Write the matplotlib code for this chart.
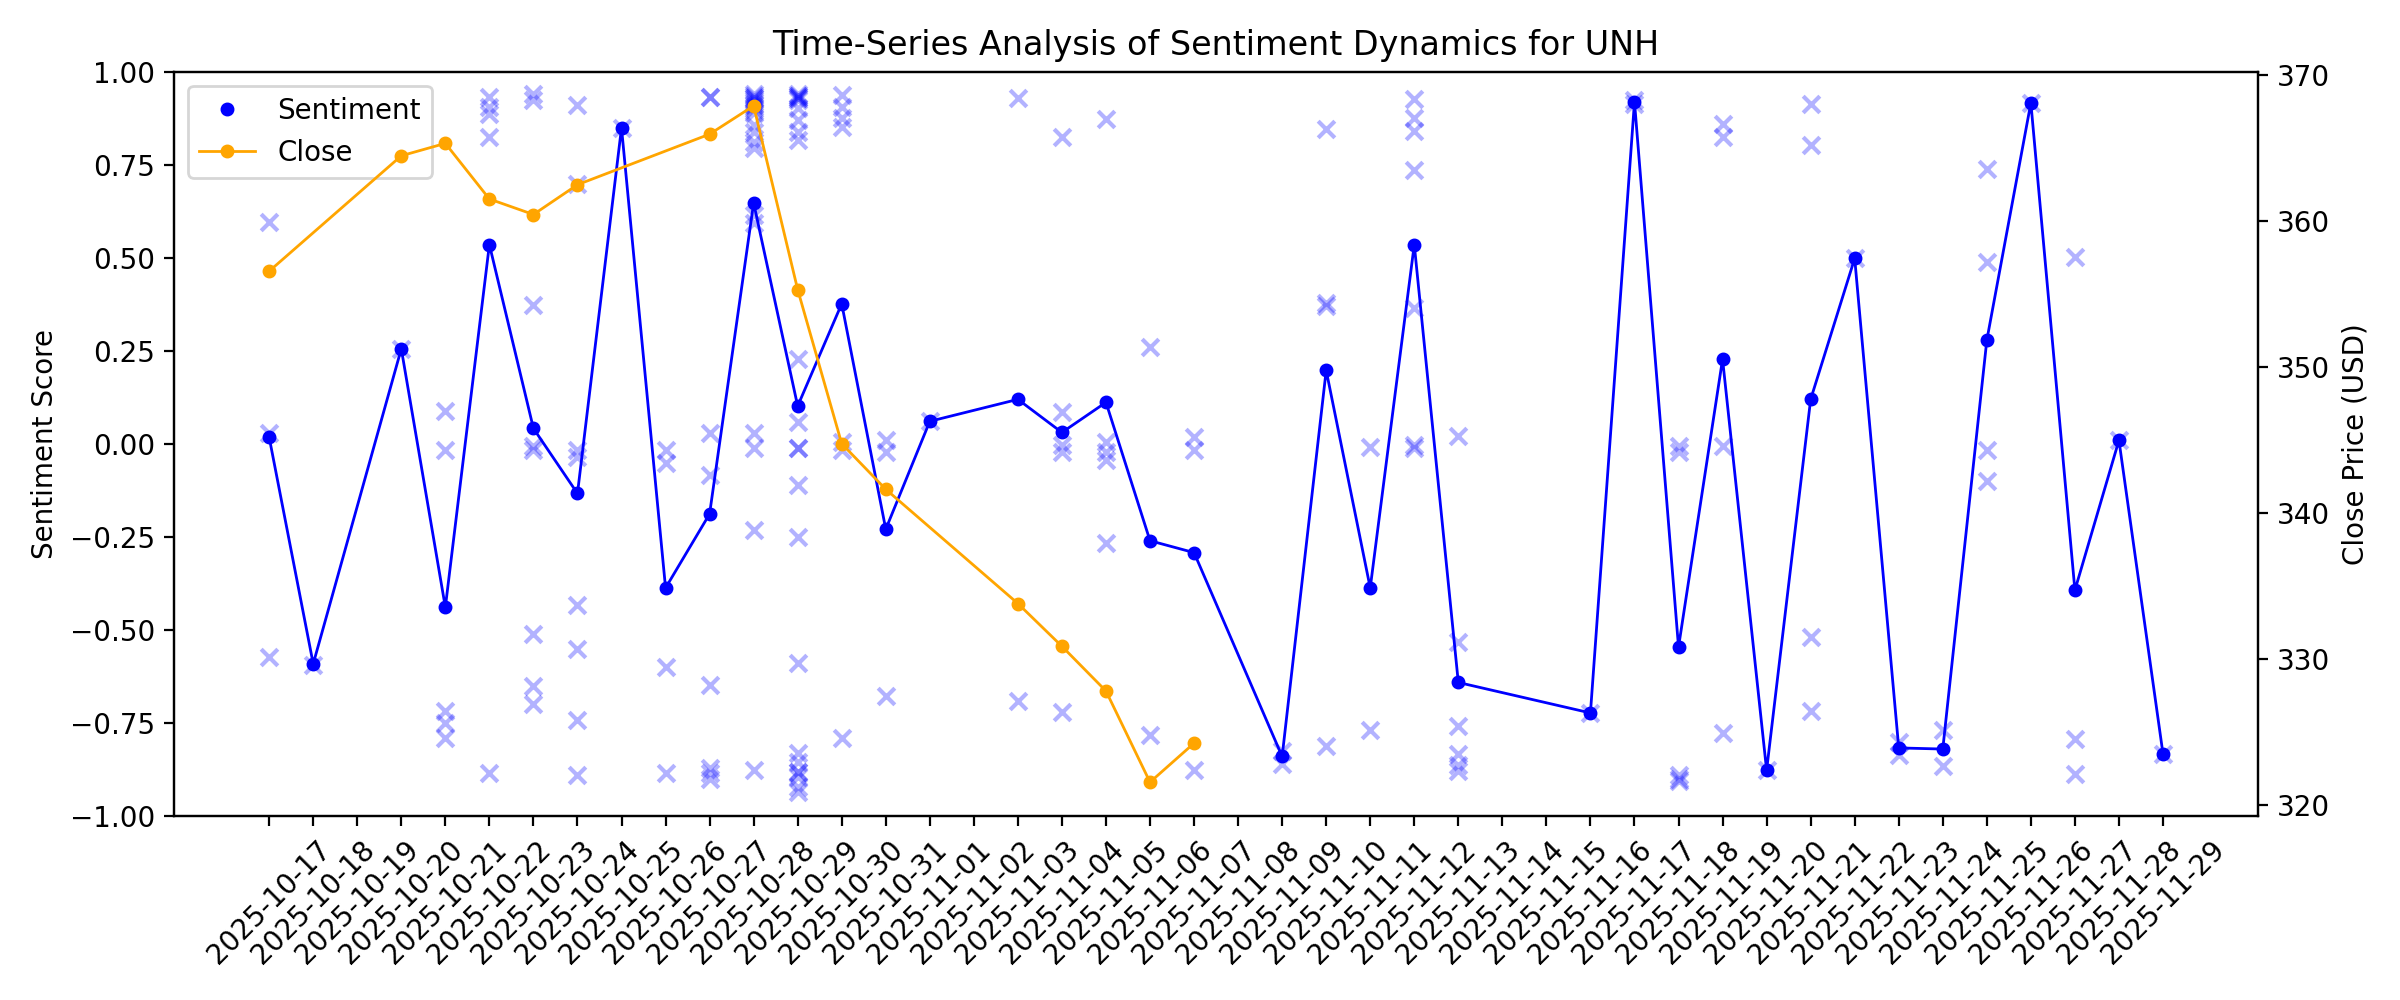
import matplotlib
matplotlib.use("Agg")
import matplotlib.pyplot as plt
import matplotlib.dates as mdates
import pandas as pd

# ---- data ----
sent_dates = ["2025-10-17", "2025-10-18", "2025-10-20", "2025-10-21", "2025-10-22",
              "2025-10-23", "2025-10-24", "2025-10-25", "2025-10-26", "2025-10-27",
              "2025-10-28", "2025-10-29", "2025-10-30", "2025-10-31", "2025-11-01",
              "2025-11-03", "2025-11-04", "2025-11-05", "2025-11-06", "2025-11-07",
              "2025-11-09", "2025-11-10", "2025-11-11", "2025-11-12", "2025-11-13",
              "2025-11-16", "2025-11-17", "2025-11-18", "2025-11-19", "2025-11-20",
              "2025-11-21", "2025-11-22", "2025-11-23", "2025-11-24", "2025-11-25",
              "2025-11-26", "2025-11-27", "2025-11-28", "2025-11-29"]

sent_mean = [0.018, -0.591, 0.256, -0.439, 0.536,
             0.042, -0.133, 0.850, -0.387, -0.188,
             0.648, 0.102, 0.377, -0.229, 0.061,
             0.120, 0.031, 0.112, -0.260, -0.292,
             -0.840, 0.198, -0.387, 0.536, -0.641,
             -0.723, 0.920, -0.546, 0.228, -0.877,
             0.120, 0.499, -0.817, -0.820, 0.279,
             0.917, -0.393, 0.010, -0.833]

# individual article scores per day (same order as sent_dates)
article_scores = [
    [0.597, 0.029, -0.573],
    [-0.595],
    [0.256],
    [0.089, -0.015, -0.717, -0.750, -0.790],
    [0.933, 0.906, 0.886, 0.826, -0.884],
    [0.940, 0.925, 0.375, -0.005, -0.015, -0.510, -0.650, -0.700],
    [0.910, 0.699, -0.015, -0.035, -0.432, -0.550, -0.743, -0.890],
    [0.850],
    [-0.015, -0.051, -0.599, -0.884],
    [0.932, 0.932, 0.029, -0.083, -0.648, -0.870, -0.885, -0.900],
    [0.940, 0.935, 0.930, 0.930, 0.925, 0.920, 0.915, 0.910, 0.905, 0.900, 0.890,
     0.858, 0.840, 0.813, 0.795, 0.616, 0.593, 0.029, -0.012, -0.231, -0.876],
    [0.940, 0.935, 0.935, 0.930, 0.930, 0.925, 0.902, 0.871, 0.840, 0.817,
     0.228, 0.060, -0.012, -0.012, -0.110, -0.249,
     -0.590, -0.831, -0.854, -0.881, -0.881, -0.894, -0.921, -0.935],
    [0.938, 0.907, 0.876, 0.853, 0.005, -0.016, -0.791],
    [0.011, -0.022, -0.677],
    [0.061],
    [0.929, -0.690],
    [0.826, 0.085, -0.002, -0.022, -0.721],
    [0.873, 0.005, -0.022, -0.042, -0.267],
    [0.261, -0.781],
    [0.018, -0.015, -0.877],
    [-0.825, -0.860],
    [0.846, 0.379, 0.372, -0.813],
    [-0.009, -0.768],
    [0.927, 0.876, 0.842, 0.737, 0.365, -0.002, -0.011],
    [0.021, -0.532, -0.757, -0.834, -0.864, -0.880],
    [-0.723],
    [0.925, 0.915],
    [-0.006, -0.022, -0.890, -0.900, -0.905],
    [0.860, 0.826, -0.006, -0.777],
    [-0.877],
    [0.913, 0.804, -0.519, -0.719],
    [0.500],
    [-0.800, -0.835],
    [-0.770, -0.866],
    [0.739, 0.488, -0.015, -0.100],
    [0.917],
    [0.502, -0.794, -0.886],
    [0.010],
    [-0.833],
]

close_dates = ["2025-10-17", "2025-10-20", "2025-10-21", "2025-10-22", "2025-10-23",
               "2025-10-24", "2025-10-27", "2025-10-28", "2025-10-29", "2025-10-30",
               "2025-10-31", "2025-11-03", "2025-11-04", "2025-11-05", "2025-11-06",
               "2025-11-07"]
close_prices = [356.56, 364.46, 365.31, 361.50, 360.44,
                362.48, 365.94, 367.88, 355.30, 344.75,
                341.63, 333.81, 330.88, 327.82, 321.58,
                324.25]

tick_start = "2025-10-17"
tick_end = "2025-11-29"

# ---- plotting ----
sd = pd.to_datetime(sent_dates)
art_x = []
art_y = []
for d, scores in zip(sd, article_scores):
    for s in scores:
        art_x.append(d)
        art_y.append(s)
cd = pd.to_datetime(close_dates)

fig = plt.figure(figsize=(12, 5), dpi=200)
ax = fig.add_axes([0.0727, 0.184, 0.868, 0.744])

ax.scatter(art_x, art_y, marker="x", color="blue", alpha=0.3, s=36)
ax.plot(sd, sent_mean, color="blue", linewidth=1)
ax.plot(sd, sent_mean, linestyle="none", marker="o", markersize=4,
        color="blue", label="Sentiment")
ax.set_ylim(-1, 1)
ax.set_ylabel("Sentiment Score")

ax2 = ax.twinx()
ax2.plot(cd, close_prices, color="orange", marker="o", markersize=4,
         linewidth=1, label="Close")
ax2.set_ylabel("Close Price (USD)")

ticks = pd.date_range(tick_start, tick_end, freq="D")
ax.set_xticks(ticks)
ax.xaxis.set_major_formatter(mdates.DateFormatter("%Y-%m-%d"))
for lab in ax.get_xticklabels():
    lab.set_rotation(45)
    lab.set_ha("center")

ax.set_title("Time-Series Analysis of Sentiment Dynamics for UNH")

h1, l1 = ax.get_legend_handles_labels()
h2, l2 = ax2.get_legend_handles_labels()
ax.legend(h1 + h2, l1 + l2, loc="upper left")

fig.savefig("out.png", dpi=200)
